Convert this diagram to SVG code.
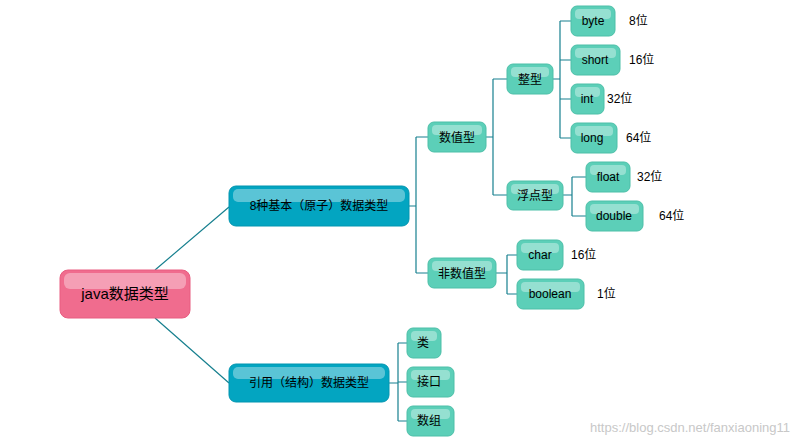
<svg xmlns="http://www.w3.org/2000/svg" width="796" height="443" viewBox="0 0 796 443">
<style>
text{font-family:"Liberation Sans","Noto Sans CJK SC",sans-serif;font-size:12px;fill:#000}
.t{fill:#5ccfb8;stroke:#4cbfa8;stroke-width:1}
.b{fill:#03a5c1;stroke:#0395b0;stroke-width:1}
.p{fill:#f06c8e;stroke:#e85c80;stroke-width:1}
.h{fill:#fff;opacity:0.35}
.c{fill:none;stroke:#17808f;stroke-width:1.2}
.l{font-size:12px}
</style>
<rect width="796" height="443" fill="#fff"/>
<g id="connectors">
<path class="c" d="M155,270 L229,207 M155,318 L229,383"/>
<path class="c" d="M409,206 H416 M416,137 V273 M416,137 H428 M416,273 H428"/>
<path class="c" d="M486,137 H493 M493,79 V195 M493,79 H507 M493,195 H507"/>
<path class="c" d="M553,79 H560 M560,21 V138 M560,21 H571 M560,60 H571 M560,99 H571 M560,138 H571"/>
<path class="c" d="M563,195 H572 M572,177 V216 M572,177 H586 M572,216 H586"/>
<path class="c" d="M496,273 H507 M507,255 V294 M507,255 H517 M507,294 H517"/>
<path class="c" d="M389,383 H398 M398,343 V421 M398,343 H407 M398,382 H407 M398,421 H407"/>
</g>
<g id="root"><rect class="p" x="60" y="270" width="130" height="48" rx="8"/><rect class="h" x="64" y="273" width="122" height="16" rx="6"/><text x="125" y="299" text-anchor="middle" style="font-size:15px">java数据类型</text></g>
<g id="basic"><rect class="b" x="229" y="186" width="180" height="40" rx="7"/><rect class="h" x="233" y="189" width="172" height="13" rx="5"/><text x="319" y="210" text-anchor="middle">8种基本（原子）数据类型</text></g>
<g id="ref"><rect class="b" x="229" y="364" width="160" height="38" rx="7"/><rect class="h" x="233" y="367" width="152" height="12" rx="5"/><text x="309" y="387" text-anchor="middle">引用（结构）数据类型</text></g>
<g id="num"><rect class="t" x="428" y="122" width="58" height="30" rx="6"/><rect class="h" x="432" y="125" width="50" height="10" rx="4"/><text x="457" y="142" text-anchor="middle">数值型</text></g>
<g id="int-type"><rect class="t" x="507" y="64" width="46" height="30" rx="6"/><rect class="h" x="511" y="67" width="38" height="10" rx="4"/><text x="530" y="84" text-anchor="middle">整型</text></g>
<g id="byte"><rect class="t" x="571" y="6" width="44" height="30" rx="6"/><rect class="h" x="575" y="9" width="36" height="10" rx="4"/><text x="593" y="25" text-anchor="middle">byte</text></g>
<g id="short"><rect class="t" x="571" y="45" width="49" height="30" rx="6"/><rect class="h" x="575" y="48" width="41" height="10" rx="4"/><text x="595" y="64" text-anchor="middle">short</text></g>
<g id="int"><rect class="t" x="571" y="84" width="33" height="30" rx="6"/><rect class="h" x="575" y="87" width="25" height="10" rx="4"/><text x="587" y="103" text-anchor="middle">int</text></g>
<g id="long"><rect class="t" x="571" y="123" width="46" height="30" rx="6"/><rect class="h" x="575" y="126" width="38" height="10" rx="4"/><text x="592" y="142" text-anchor="middle">long</text></g>
<g id="floatp"><rect class="t" x="507" y="181" width="56" height="29" rx="6"/><rect class="h" x="511" y="184" width="48" height="10" rx="4"/><text x="535" y="200" text-anchor="middle">浮点型</text></g>
<g id="float"><rect class="t" x="586" y="162" width="44" height="30" rx="6"/><rect class="h" x="590" y="165" width="36" height="10" rx="4"/><text x="608" y="181" text-anchor="middle">float</text></g>
<g id="double"><rect class="t" x="586" y="201" width="57" height="30" rx="6"/><rect class="h" x="590" y="204" width="49" height="10" rx="4"/><text x="614" y="220" text-anchor="middle">double</text></g>
<g id="nonnum"><rect class="t" x="428" y="258" width="68" height="30" rx="6"/><rect class="h" x="432" y="261" width="60" height="10" rx="4"/><text x="462" y="278" text-anchor="middle">非数值型</text></g>
<g id="char"><rect class="t" x="517" y="240" width="46" height="30" rx="6"/><rect class="h" x="521" y="243" width="38" height="10" rx="4"/><text x="540" y="259" text-anchor="middle">char</text></g>
<g id="boolean"><rect class="t" x="517" y="279" width="67" height="30" rx="6"/><rect class="h" x="521" y="282" width="59" height="10" rx="4"/><text x="550" y="298" text-anchor="middle">boolean</text></g>
<g id="class"><rect class="t" x="407" y="328" width="34" height="30" rx="6"/><rect class="h" x="411" y="331" width="26" height="10" rx="4"/><text x="423" y="347" text-anchor="middle">类</text></g>
<g id="iface"><rect class="t" x="407" y="367" width="47" height="30" rx="6"/><rect class="h" x="411" y="370" width="39" height="10" rx="4"/><text x="429" y="386" text-anchor="middle">接口</text></g>
<g id="array"><rect class="t" x="407" y="406" width="47" height="30" rx="6"/><rect class="h" x="411" y="409" width="39" height="10" rx="4"/><text x="429" y="425" text-anchor="middle">数组</text></g>
<g id="labels" class="l">
<text x="629" y="25">8位</text><text x="629" y="64">16位</text><text x="607" y="103">32位</text><text x="626" y="142">64位</text>
<text x="637" y="181">32位</text><text x="659" y="220">64位</text><text x="571" y="259">16位</text><text x="597" y="298">1位</text>
</g>
<text x="790" y="432" text-anchor="end" style="fill:#c8c8c8;font-size:13px">https://blog.csdn.net/fanxiaoning11</text>
</svg>
